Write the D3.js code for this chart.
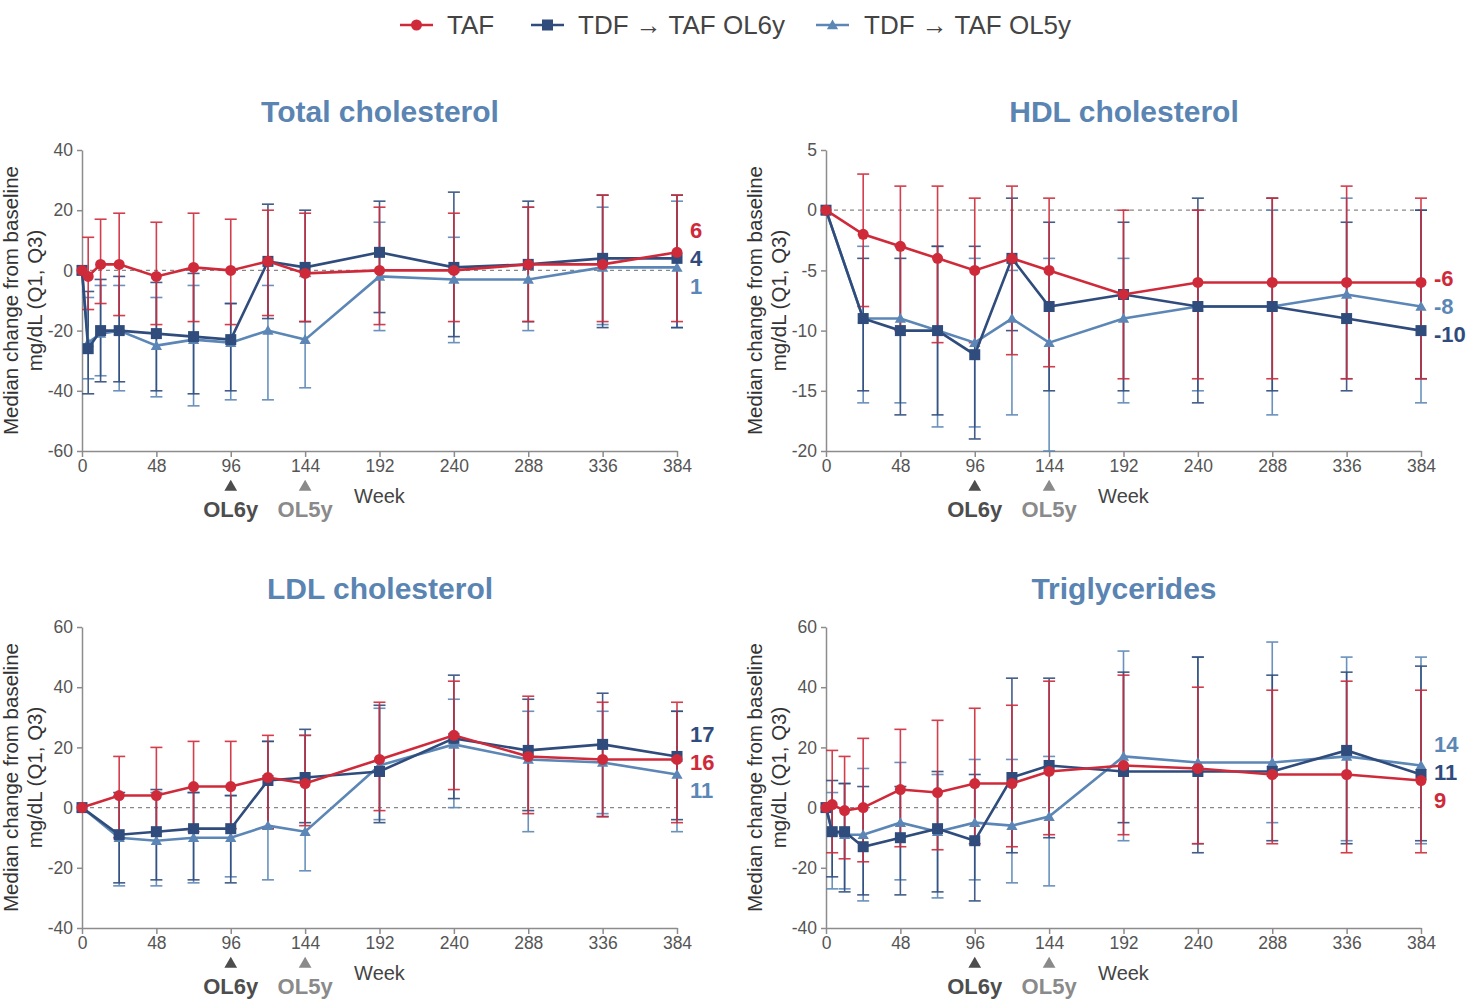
<!DOCTYPE html>
<html>
<head>
<meta charset="utf-8">
<script src="https://cdn.jsdelivr.net/npm/d3@7"></script>
<style>
body{margin:0;background:#fff;}
svg{display:block;font-family:"Liberation Sans",Arial,sans-serif;}
</style>
</head>
<body>
<div class="container"></div>
<script>
// ---- data ----
var seriesNames = ["TAF", "TDF \u2192 TAF OL6y", "TDF \u2192 TAF OL5y"];
var colors = ["#cf2a3a", "#2f4c7c", "#5b86b5"];

var tcWeeks = [0,4,12,24,48,72,96,120,144,192,240,288,336,384];
var tcTaf    = [0,-2,2,2,-2,1,0,3,-1,0,0,2,2,6];
var tcTafQ3  = [0,11,17,19,16,19,17,20,19,21,19,21,25,25];
var tcTafQ1  = [0,-13,-11,-15,-18,-17,-18,-15,-17,-18,-17,-17,-17,-17];
var tcOl6    = [0,-26,-20,-20,-21,-22,-23,3,1,6,1,2,4,4];
var tcOl6Q3  = [0,-7,-3,-2,-4,-1,-11,22,20,23,26,23,25,25];
var tcOl6Q1  = [0,-41,-37,-37,-40,-41,-40,-16,-17,-14,-22,-17,-19,-19];
var tcOl5    = [0,-24,-21,-20,-25,-23,-24,-20,-23,-2,-3,-3,1,1];
var tcOl5Q3  = [0,-9,-5,-5,-9,-5,-11,-5,-2,16,11,21,21,23];
var tcOl5Q1  = [0,-36,-35,-40,-42,-45,-43,-43,-39,-20,-24,-20,-18,-19];

var hdlWeeks = [0,24,48,72,96,120,144,192,240,288,336,384];
var hdlTaf   = [0,-2,-3,-4,-5,-4,-5,-7,-6,-6,-6,-6];
var hdlTafQ3 = [0,3,2,2,1,2,1,0,0,1,2,1];
var hdlTafQ1 = [0,-8,-10,-11,-11,-12,-13,-14,-14,-14,-14,-14];
var hdlOl6   = [0,-9,-10,-10,-12,-4,-8,-7,-8,-8,-9,-10];
var hdlOl6Q3 = [0,-4,-4,-3,-3,1,-1,-1,1,1,-1,0];
var hdlOl6Q1 = [0,-15,-17,-17,-19,-10,-15,-15,-16,-15,-15,-14];
var hdlOl5   = [0,-9,-9,-10,-11,-9,-11,-9,-8,-8,-7,-8];
var hdlOl5Q3 = [0,-3,-3,-3,-4,-5,-4,-4,0,0,1,0];
var hdlOl5Q1 = [0,-16,-16,-18,-18,-17,-20,-16,-15,-17,-14,-16];

var ldlWeeks = [0,24,48,72,96,120,144,192,240,288,336,384];
var ldlTaf   = [0,4,4,7,7,10,8,16,24,17,16,16];
var ldlTafQ3 = [0,17,20,22,22,24,24,35,42,37,35,35];
var ldlTafQ1 = [0,-10,-8,-8,-7,-7,-6,-1,6,-2,-3,-5];
var ldlOl6   = [0,-9,-8,-7,-7,9,10,12,23,19,21,17];
var ldlOl6Q3 = [0,5,6,5,4,22,26,34,44,36,38,32];
var ldlOl6Q1 = [0,-25,-24,-24,-25,-7,-5,-5,3,-1,-3,-4];
var ldlOl5   = [0,-10,-11,-10,-10,-6,-8,14,21,16,15,11];
var ldlOl5Q3 = [0,4,5,5,4,22,24,33,36,32,32,32];
var ldlOl5Q1 = [0,-26,-26,-25,-23,-24,-21,-4,0,-8,-2,-8];

var tgWeeks = [0,4,12,24,48,72,96,120,144,192,240,288,336,384];
var tgTaf    = [0,1,-1,0,6,5,8,8,12,14,13,11,11,9];
var tgTafQ3  = [0,19,17,23,26,29,33,34,42,44,40,39,42,39];
var tgTafQ1  = [0,-15,-17,-18,-13,-14,-12,-13,-9,-9,-12,-12,-15,-15];
var tgOl6    = [0,-8,-8,-13,-10,-7,-11,10,14,12,12,12,19,11];
var tgOl6Q3  = [0,9,8,7,7,12,11,43,43,45,50,44,45,47];
var tgOl6Q1  = [0,-23,-28,-29,-29,-28,-31,-15,-10,-5,-15,-11,-12,-11];
var tgOl5    = [0,-8,-9,-9,-5,-8,-5,-6,-3,17,15,15,17,14];
var tgOl5Q3  = [0,5,8,13,15,11,16,16,17,52,50,55,50,50];
var tgOl5Q1  = [0,-27,-27,-31,-24,-30,-24,-25,-26,-11,-12,-5,-11,-12];

var xTicks = [0,48,96,144,192,240,288,336,384];

var panels = [
  {title:"Total cholesterol", left:82, top:150, ydom:[-60,40], ystep:20, weeks:tcWeeks,
   med:[tcTaf,tcOl6,tcOl5], q3:[tcTafQ3,tcOl6Q3,tcOl5Q3], q1:[tcTafQ1,tcOl6Q1,tcOl5Q1]},
  {title:"HDL cholesterol", left:826, top:150, ydom:[-20,5], ystep:5, weeks:hdlWeeks,
   med:[hdlTaf,hdlOl6,hdlOl5], q3:[hdlTafQ3,hdlOl6Q3,hdlOl5Q3], q1:[hdlTafQ1,hdlOl6Q1,hdlOl5Q1]},
  {title:"LDL cholesterol", left:82, top:627, ydom:[-40,60], ystep:20, weeks:ldlWeeks,
   med:[ldlTaf,ldlOl6,ldlOl5], q3:[ldlTafQ3,ldlOl6Q3,ldlOl5Q3], q1:[ldlTafQ1,ldlOl6Q1,ldlOl5Q1]},
  {title:"Triglycerides", left:826, top:627, ydom:[-40,60], ystep:20, weeks:tgWeeks,
   med:[tgTaf,tgOl6,tgOl5], q3:[tgTafQ3,tgOl6Q3,tgOl5Q3], q1:[tgTafQ1,tgOl6Q1,tgOl5Q1]}
];

var width = 1468, height = 1001;
var plotW = 595, plotH = 301;
var axisCol = "#8c8c8c", tickTxt = "#555";

var svg = d3.select(".container").append("svg").attr("width", width).attr("height", height);

function marker(g, i, cx, cy){
  if(i==0){
    g.append("circle").attr("cx",cx).attr("cy",cy).attr("r",5.5).attr("fill",colors[0]);
  } else if(i==1){
    g.append("rect").attr("x",cx-5.5).attr("y",cy-5.5).attr("width",11).attr("height",11).attr("fill",colors[1]);
  } else {
    g.append("path").attr("d", d3.symbol(d3.symbolTriangle, 55)()).attr("transform","translate("+cx+","+(cy+1)+")").attr("fill",colors[2]);
  }
}

// legend
var legend = svg.append("g");
var legX = [400, 531, 816];
var legTx = [447, 578, 864];
for(var i=0;i<3;i++){
  legend.append("line").attr("x1",legX[i]).attr("x2",legX[i]+33).attr("y1",25).attr("y2",25)
    .attr("stroke",colors[i]).attr("stroke-width",2.5);
  marker(legend, i, legX[i]+16.5, 25);
  legend.append("text").attr("x",legTx[i]).attr("y",34).attr("font-size",26).attr("fill","#444")
    .text(seriesNames[i]);
}

panels.forEach(function(p){
  var x = d3.scaleLinear().domain([0,384]).range([p.left, p.left+plotW]);
  var y = d3.scaleLinear().domain(p.ydom).range([p.top+plotH, p.top]);
  var g = svg.append("g");

  // title
  g.append("text").attr("x", p.left+298).attr("y", p.top-28).attr("text-anchor","middle")
    .attr("font-size",30).attr("font-weight","bold").attr("fill","#5a84b2").text(p.title);

  // axes
  var yt = d3.range(p.ydom[0], p.ydom[1]+0.1, p.ystep);
  var ya = g.append("g").attr("transform","translate("+p.left+",0)")
    .call(d3.axisLeft(y).tickValues(yt).tickFormat(function(d){return String(d);}).tickSize(5).tickPadding(4).tickSizeOuter(0));
  var xa = g.append("g").attr("transform","translate(0,"+(p.top+plotH)+")")
    .call(d3.axisBottom(x).tickValues(xTicks).tickSize(6).tickPadding(3).tickSizeOuter(0));
  [ya,xa].forEach(function(a){
    a.select(".domain").attr("stroke",axisCol).attr("stroke-width",1.5);
    a.selectAll(".tick line").attr("stroke",axisCol).attr("stroke-width",1.5);
    a.selectAll(".tick text").attr("font-size",17.5).attr("fill",tickTxt).attr("font-family","Liberation Sans, Arial, sans-serif");
  });

  // y label
  var cy = p.top + plotH/2;
  g.append("text").attr("transform","translate("+(p.left-64)+","+cy+") rotate(-90)")
    .attr("text-anchor","middle").attr("font-size",20.5).attr("fill","#333").text("Median change from baseline");
  g.append("text").attr("transform","translate("+(p.left-40)+","+cy+") rotate(-90)")
    .attr("text-anchor","middle").attr("font-size",20.5).attr("fill","#333").text("mg/dL (Q1, Q3)");

  // zero line
  g.append("line").attr("x1",x(0)).attr("x2",x(384)).attr("y1",y(0)).attr("y2",y(0))
    .attr("stroke","#888").attr("stroke-width",1.2).attr("stroke-dasharray","4,4");

  // OL markers under axis
  var by = p.top + plotH;
  g.append("path").attr("d", d3.symbol(d3.symbolTriangle, 70)()).attr("transform","translate("+x(96)+","+(by+36)+")").attr("fill","#4d4d4d");
  g.append("path").attr("d", d3.symbol(d3.symbolTriangle, 70)()).attr("transform","translate("+x(144)+","+(by+36)+")").attr("fill","#8a8a8a");
  g.append("text").attr("x",x(96)).attr("y",by+66).attr("text-anchor","middle").attr("font-size",22)
    .attr("font-weight","bold").attr("fill","#4d4d4d").text("OL6y");
  g.append("text").attr("x",x(144)).attr("y",by+66).attr("text-anchor","middle").attr("font-size",22)
    .attr("font-weight","bold").attr("fill","#8a8a8a").text("OL5y");
  g.append("text").attr("x",x(192)).attr("y",by+52).attr("text-anchor","middle").attr("font-size",20)
    .attr("fill","#444").text("Week");

  // error bars (light first, red last)
  [2,1,0].forEach(function(s){
    var eg = g.append("g").attr("stroke",colors[s]).attr("stroke-width",1.6).attr("opacity",0.9);
    p.weeks.forEach(function(w,k){
      var lo = p.q1[s][k], hi = p.q3[s][k];
      if(lo==hi) return;
      var xx = x(w);
      eg.append("line").attr("x1",xx).attr("x2",xx).attr("y1",y(lo)).attr("y2",y(hi));
      eg.append("line").attr("x1",xx-6).attr("x2",xx+6).attr("y1",y(lo)).attr("y2",y(lo));
      eg.append("line").attr("x1",xx-6).attr("x2",xx+6).attr("y1",y(hi)).attr("y2",y(hi));
    });
  });

  // lines + markers
  var line = d3.line().x(function(d){return x(d[0]);}).y(function(d){return y(d[1]);});
  [2,1,0].forEach(function(s){
    var pts = p.weeks.map(function(w,k){return [w, p.med[s][k]];});
    g.append("path").attr("d", line(pts)).attr("fill","none").attr("stroke",colors[s]).attr("stroke-width",2.6);
    pts.forEach(function(d){ marker(g, s, x(d[0]), y(d[1])); });
  });

  // end labels, spread apart
  var ends = [0,1,2].map(function(s){ var v = p.med[s][p.med[s].length-1]; return {s:s, v:v, y:y(v)}; });
  ends.sort(function(a,b){ return b.v - a.v; });
  var mid = d3.mean(ends, function(d){return d.y;}) - 1;
  ends.forEach(function(d,i){
    g.append("text").attr("x", p.left+plotW+13).attr("y", mid + (i-1)*28 + 8)
      .attr("font-size",22).attr("font-weight","bold").attr("fill",colors[d.s]).text(String(d.v));
  });
});
</script>
</body>
</html>
